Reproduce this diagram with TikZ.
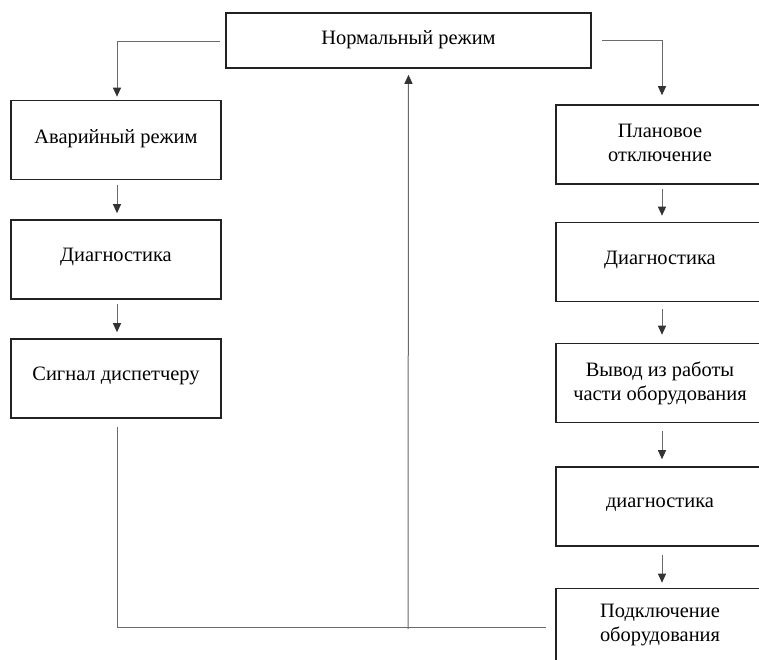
\documentclass[tikz,border=0pt]{standalone}
\usepackage{fontspec}
\setmainfont{Liberation Serif}
\usetikzlibrary{arrows.meta}
\definecolor{boxline}{HTML}{222222}
\definecolor{conline}{HTML}{6A6A6A}
\definecolor{tipcol}{HTML}{333333}
\begin{document}
\begin{tikzpicture}[x=1bp,y=-1bp,
  box/.style={draw=boxline, line width=1.6bp, minimum width=#1, minimum height=79bp, inner sep=0pt},
  box/.default=210bp,
  txt/.style={font=\fontsize{20.5}{24}\selectfont, align=center, inner sep=0pt, text=black},
  con/.style={draw=conline, line width=1bp},
  arr/.style={con, -{Triangle[length=9bp,width=8bp,fill=tipcol,color=tipcol]}},
]
\clip (0,0) rectangle (759,660);
\fill[white] (0,0) rectangle (759,660);

% top box
\node[box=365bp, minimum height=55bp] (top) at (408.5,40.5) {};
\node[txt] (topt) at (408.5,40) {Нормальный режим};

% left column
\node[box] (aw) at (116,140) {};
\node[txt] (awt) at (116,139) {Аварийный режим};
\node[box] (dl) at (116,259.5) {};
\node[txt] (dlt) at (116,257) {Диагностика};
\node[box] (sg) at (116,378.5) {};
\node[txt] (sgt) at (116,376) {Сигнал диспетчеру};

% right column
\node[box=208bp] (pl) at (660,144.5) {};
\node[txt] (plt) at (660,143) {Плановое\\отключение};
\node[box=208bp] (dr) at (660,262) {};
\node[txt] (drt) at (660,260) {Диагностика};
\node[box=208bp] (vv) at (660,383) {};
\node[txt] (vvt) at (660,383) {Вывод из работы\\части оборудования};
\node[box=208bp] (dg) at (660,506.5) {};
\node[txt] (dgt) at (660,505) {диагностика};
\node[box=208bp] (pk) at (660,628) {};
\node[txt] (pkt) at (660,625) {Подключение\\оборудования};

% connectors from top
\draw[arr, shorten <=5bp, shorten >=3bp] ([yshift=-1.5bp]top.west) -| ([xshift=1bp]aw.north);
\draw[arr, shorten <=10bp, shorten >=9bp] (top.east) -| ([xshift=2bp]pl.north);

% left chain
\draw[arr, shorten <=5bp, shorten >=6bp] ([xshift=1bp]aw.south) -- ([xshift=1bp]dl.north);
\draw[arr, shorten <=4bp, shorten >=6bp] ([xshift=1bp]dl.south) -- ([xshift=1bp]sg.north);

% right chain
\draw[arr, shorten <=4bp, shorten >=6bp] ([xshift=2bp]pl.south) -- ([xshift=2bp]dr.north);
\draw[arr, shorten <=7bp, shorten >=8bp] ([xshift=2bp]dr.south) -- ([xshift=2bp]vv.north);
\draw[arr, shorten <=8bp, shorten >=7bp] ([xshift=2bp]vv.south) -- ([xshift=2bp]dg.north);
\draw[arr, shorten <=8bp, shorten >=5bp] ([xshift=2bp]dg.south) -- ([xshift=2bp]pk.north);

% return path
\coordinate (ret) at (408,629);
\draw[con, shorten <=8bp, shorten >=9bp] ([xshift=1bp]sg.south) |- ([yshift=1bp]pk.west);
\draw[arr, shorten >=6bp] (ret) -- (top.south);
\end{tikzpicture}
\end{document}
